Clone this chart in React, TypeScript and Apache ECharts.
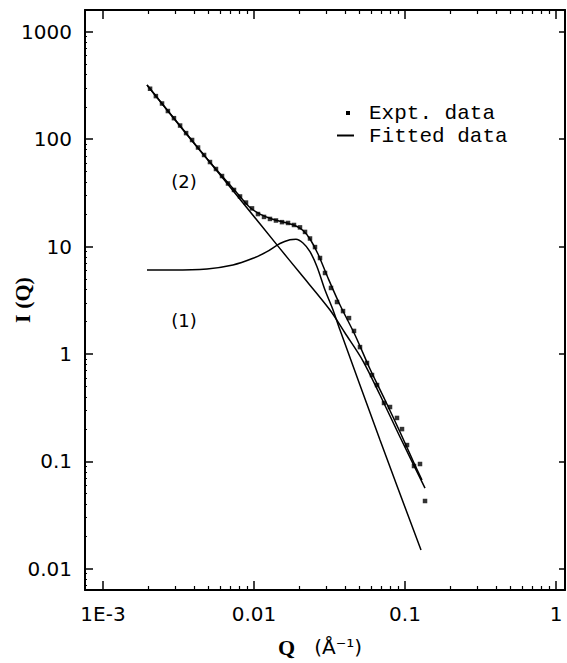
import React, { useEffect, useRef } from "react";
import * as echarts from "echarts";

// Experimental data points (Q in 1/Å, I(Q))
const dataQ = [0.00205, 0.00224, 0.00246, 0.00269, 0.00295, 0.00324, 0.00355, 0.00389, 0.00426, 0.00467, 0.00511, 0.0056, 0.00614, 0.00673, 0.00737, 0.00808, 0.00885, 0.0097, 0.01063, 0.01165, 0.01276, 0.01398, 0.01533, 0.0168, 0.0184, 0.02016, 0.02177, 0.02349, 0.02535, 0.02736, 0.02953, 0.03235, 0.03546, 0.03886, 0.04257, 0.04595, 0.05035, 0.05601, 0.06045, 0.06527, 0.0726, 0.07956, 0.08851, 0.09552, 0.1031, 0.1147, 0.1257, 0.1357];
const dataI = [295, 252, 215, 183, 157, 134, 114, 98.3, 83.7, 71.3, 61.3, 52.8, 45.4, 38.7, 33.7, 29.3, 25.7, 22.7, 20.1, 18.9, 18.1, 17.5, 16.9, 16.6, 15.9, 15.1, 13.7, 11.9, 9.9, 7.83, 5.68, 4.12, 3.05, 2.51, 2.16, 1.64, 1.16, 0.825, 0.637, 0.514, 0.35, 0.321, 0.254, 0.2, 0.142, 0.0906, 0.0946, 0.0428];

// Total fitted curve (2)
const fitQ = [0.001956, 0.004389, 0.008078, 0.009408, 0.010958, 0.013158, 0.016044, 0.018686, 0.021109, 0.023488, 0.02653, 0.03092, 0.037117, 0.046658, 0.058638, 0.07372, 0.092663, 0.11471, 0.12959];
const fitI = [320, 78.5, 29.3, 23.1, 20.1, 18.07, 16.77, 15.72, 14.12, 11.77, 8.53, 5.1, 2.86, 1.503, 0.725, 0.373, 0.188, 0.0966, 0.0671];

// Component curve (1)
const c1Q = [0.001956, 0.002906, 0.004886, 0.007255, 0.009851, 0.012186, 0.014858, 0.017285, 0.018972, 0.021109, 0.023488, 0.02614, 0.029525, 0.033374, 0.037117, 0.06832, 0.12764];
const c1I = [6.05, 6.05, 6.2, 6.74, 7.78, 8.97, 10.69, 11.57, 11.69, 10.8, 8.97, 6.5, 3.94, 2.57, 1.67, 0.158, 0.01496];

// Power-law component
const plQ = [0.001956, 0.004389, 0.008459, 0.014413, 0.020163, 0.031864, 0.040052, 0.052713, 0.06832, 0.092663, 0.13568];
const plI = [319.7, 79.0, 25.5, 10.1, 5.67, 2.57, 1.569, 0.8605, 0.4151, 0.1688, 0.0565];

// Axis ticks
const xMajor = [0.001, 0.01, 0.1, 1];
const xMajorLabels = ["1E-3", "0.01", "0.1", "1"];
const yMajor = [0.01, 0.1, 1, 10, 100, 1000];
const yMajorLabels = ["0.01", "0.1", "1", "10", "100", "1000"];
const minorMult = [2, 3, 4, 5, 6, 7, 8, 9];
const xDecades = [0.001, 0.01, 0.1];
const yDecades = [0.001, 0.01, 0.1, 1, 10, 100];

const X_MIN = 0.00076;
const X_MAX = 1.147;
const Y_MIN = 0.00635;
const Y_MAX = 1596;

const FONT_TICK = '"DejaVu Sans", sans-serif';

function minorOf(decades: number[], lo: number, hi: number) {
  const out: number[] = [];
  decades.forEach((d) => minorMult.forEach((m) => {
    const v = parseFloat((d * m).toPrecision(6));
    if (v > lo && v < hi) out.push(v);
  }));
  return out;
}

function labelFor(v: number, vals: number[], labels: string[]) {
  for (let i = 0; i < vals.length; i++) {
    if (Math.abs(Math.log10(v) - Math.log10(vals[i])) < 1e-6) return labels[i];
  }
  return "";
}

export default function App() {
  const ref = useRef<HTMLDivElement>(null);
  useEffect(() => {
    if (!ref.current) return;
    const chart = echarts.init(ref.current, undefined, { renderer: "svg" });
    const xMinor = minorOf(xDecades, X_MIN, X_MAX);
    const yMinor = minorOf(yDecades, Y_MIN, Y_MAX);
    const lineC = { color: "#000", width: 2 };
    const tickStyle = { color: "#000", width: 1.5 };
    const xBase = {
      type: "log", logBase: 10, min: X_MIN, max: X_MAX, gridIndex: 0,
      splitLine: { show: false }, minorTick: { show: false }, minorSplitLine: { show: false },
    };
    const yBase = {
      type: "log", logBase: 10, min: Y_MIN, max: Y_MAX, gridIndex: 0,
      splitLine: { show: false }, minorTick: { show: false }, minorSplitLine: { show: false },
    };
    const option: any = {
      animation: false,
      backgroundColor: "#fff",
      grid: { left: 85, top: 10, width: 480, height: 580, containLabel: false, outerBoundsMode: "none" },
      xAxis: [
        {
          ...xBase, position: "bottom",
          axisLine: { show: true, onZero: false, lineStyle: lineC },
          axisTick: { show: true, inside: true, length: 9, lineStyle: tickStyle, customValues: xMajor },
          axisLabel: {
            show: true, customValues: xMajor, margin: 14, fontSize: 20, fontFamily: FONT_TICK, color: "#000",
            formatter: (v: number) => labelFor(v, xMajor, xMajorLabels),
          },
        },
        {
          ...xBase, position: "bottom",
          axisLine: { show: false },
          axisTick: { show: true, inside: true, length: 4, lineStyle: { color: "#000", width: 1.2 }, customValues: xMinor },
          axisLabel: { show: false },
        },
        {
          ...xBase, position: "top",
          axisLine: { show: true, onZero: false, lineStyle: lineC },
          axisTick: { show: true, inside: true, length: 9, lineStyle: tickStyle, customValues: xMajor },
          axisLabel: { show: false },
        },
        {
          ...xBase, position: "top",
          axisLine: { show: false },
          axisTick: { show: true, inside: true, length: 4, lineStyle: { color: "#000", width: 1.2 }, customValues: xMinor },
          axisLabel: { show: false },
        },
      ],
      yAxis: [
        {
          ...yBase, position: "left",
          axisLine: { show: true, onZero: false, lineStyle: lineC },
          axisTick: { show: true, inside: true, length: 8, lineStyle: tickStyle, customValues: yMajor },
          axisLabel: {
            show: true, customValues: yMajor, margin: 13, fontSize: 20, fontFamily: FONT_TICK, color: "#000",
            formatter: (v: number) => labelFor(v, yMajor, yMajorLabels),
          },
        },
        {
          ...yBase, position: "left",
          axisLine: { show: false },
          axisTick: { show: true, inside: true, length: 2, lineStyle: { color: "#000", width: 1 }, customValues: yMinor },
          axisLabel: { show: false },
        },
        {
          ...yBase, position: "right",
          axisLine: { show: true, onZero: false, lineStyle: lineC },
          axisTick: { show: true, inside: true, length: 6, lineStyle: tickStyle, customValues: yMajor },
          axisLabel: { show: false },
        },
      ],
      series: [
        {
          name: "Fitted data", type: "line", xAxisIndex: 0, yAxisIndex: 0,
          data: fitQ.map((q, i) => [q, fitI[i]]), symbol: "none", showSymbol: false, smooth: 0.3,
          lineStyle: { color: "#000", width: 1.5 },
        },
        {
          name: "(1)", type: "line", xAxisIndex: 0, yAxisIndex: 0,
          data: c1Q.map((q, i) => [q, c1I[i]]), symbol: "none", showSymbol: false, smooth: 0.3,
          lineStyle: { color: "#000", width: 1.5 },
        },
        {
          name: "power law", type: "line", xAxisIndex: 0, yAxisIndex: 0,
          data: plQ.map((q, i) => [q, plI[i]]), symbol: "none", showSymbol: false, smooth: 0.3,
          lineStyle: { color: "#000", width: 1.5 },
        },
        {
          name: "Expt. data", type: "scatter", xAxisIndex: 0, yAxisIndex: 0,
          data: dataQ.map((q, i) => [q, dataI[i]]), symbol: "rect", symbolSize: 4.5,
          itemStyle: { color: "#000" },
        },
      ],
      graphic: [
        { type: "rect", shape: { x: 346, y: 111, width: 4, height: 4 }, style: { fill: "#000" } },
        { type: "line", shape: { x1: 337, y1: 135.5, x2: 354, y2: 135.5 }, style: { stroke: "#000", lineWidth: 2 } },
        {
          type: "text", x: 369, y: 113,
          style: { text: "Expt. data", font: '21px "Liberation Mono", monospace', fill: "#000", align: "left", verticalAlign: "middle", textAlign: "left", textVerticalAlign: "middle" },
        },
        {
          type: "text", x: 369, y: 136,
          style: { text: "Fitted data", font: '21px "Liberation Mono", monospace', fill: "#000", align: "left", verticalAlign: "middle", textAlign: "left", textVerticalAlign: "middle" },
        },
        {
          type: "text", x: 184, y: 181,
          style: { text: "(2)", font: '18px "DejaVu Sans", sans-serif', fill: "#000", align: "center", verticalAlign: "middle", textAlign: "center", textVerticalAlign: "middle" },
        },
        {
          type: "text", x: 184, y: 320,
          style: { text: "(1)", font: '18px "DejaVu Sans", sans-serif', fill: "#000", align: "center", verticalAlign: "middle", textAlign: "center", textVerticalAlign: "middle" },
        },
        {
          type: "text", x: 22, y: 300, rotation: Math.PI / 2,
          style: { text: "I (Q)", font: 'bold 22px "Liberation Serif", serif', fill: "#000", align: "center", verticalAlign: "middle", textAlign: "center", textVerticalAlign: "middle" },
        },
        {
          type: "text", x: 320, y: 647,
          style: {
            text: "{q|Q}{u|   (Å⁻¹)}",
            rich: {
              q: { font: 'bold 22px "Liberation Serif", serif', fill: "#000" },
              u: { font: '20px "DejaVu Sans", sans-serif', fill: "#000" },
            },
            fill: "#000", align: "center", verticalAlign: "middle", textAlign: "center", textVerticalAlign: "middle",
          },
        },
      ],
    };
    chart.setOption(option);
    return () => chart.dispose();
  }, []);
  return (
    <div
      ref={ref}
      style={{ position: "fixed", left: 0, top: 0, width: 567, height: 663, background: "#fff" }}
    />
  );
}
